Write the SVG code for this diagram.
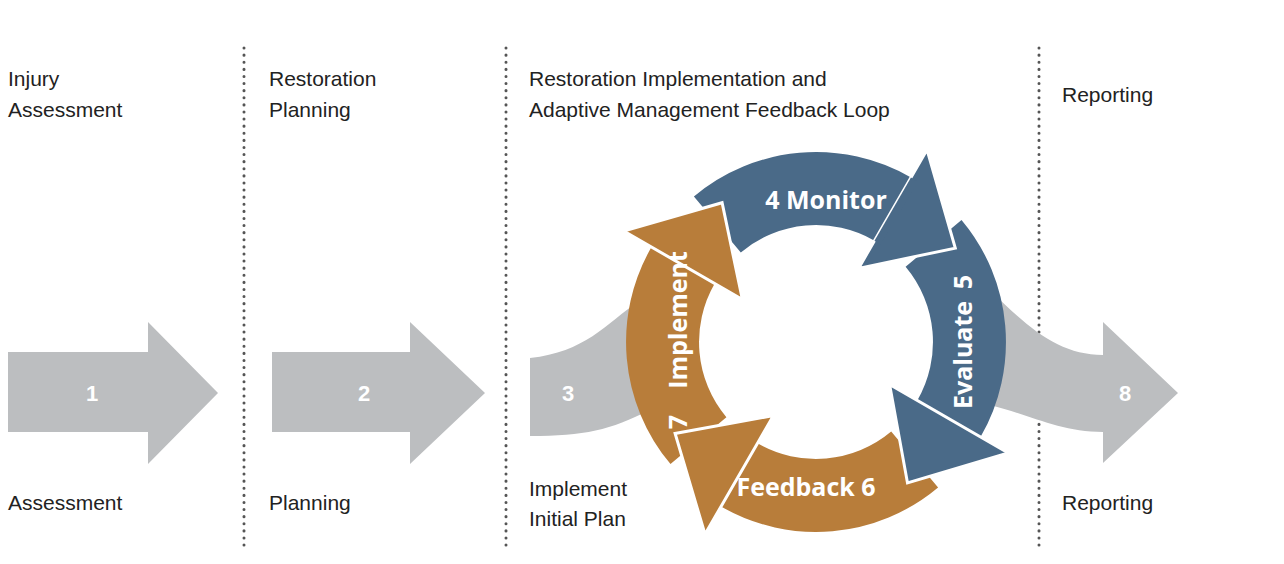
<svg xmlns="http://www.w3.org/2000/svg" width="1284" height="564" viewBox="0 0 1284 564">
<style>
.t{font-family:"Liberation Sans",Arial,sans-serif;font-size:21px;fill:#222}
.n{font-family:"Liberation Sans",Arial,sans-serif;font-size:22px;font-weight:bold;fill:#fff}
.g{fill:#bcbec0}
.b{fill:#4a6a88}
.o{fill:#b87d3a}
.h{stroke:#fff;stroke-width:3;stroke-linejoin:miter}
.d{stroke:#555;stroke-width:3;stroke-dasharray:0.1 7;stroke-linecap:round}
.c{font-family:"Open Sans","Liberation Sans",sans-serif;font-size:25px;font-weight:bold;fill:#fff}
</style>
<rect width="1284" height="564" fill="#fff"/>
<g id="dividers">
<line class="d" x1="244" y1="48" x2="244" y2="548"/>
<line class="d" x1="506" y1="48" x2="506" y2="548"/>
<line class="d" x1="1039" y1="48" x2="1039" y2="548"/>
</g>
<g id="headers">
<text class="t" x="8" y="86">Injury</text><text class="t" x="8" y="117">Assessment</text>
<text class="t" x="269" y="86">Restoration</text><text class="t" x="269" y="117">Planning</text>
<text class="t" x="529" y="86">Restoration Implementation and</text><text class="t" x="529" y="117">Adaptive Management Feedback Loop</text>
<text class="t" x="1062" y="102">Reporting</text>
<text class="t" x="8" y="510">Assessment</text>
<text class="t" x="269" y="510">Planning</text>
<text class="t" x="529" y="496">Implement</text><text class="t" x="529" y="526">Initial Plan</text>
<text class="t" x="1062" y="510">Reporting</text>
</g>
<g id="step1"><path class="g" d="M8,352 H148 V322 L218,393 L148,464 V432 H8 Z"/><text class="n" x="92" y="401" text-anchor="middle">1</text></g>
<g id="step2"><path class="g" d="M272,352 H410 V322 L485,393 L410,464 V432 H272 Z"/><text class="n" x="364" y="401" text-anchor="middle">2</text></g>
<g id="step3"><path class="g" d="M530,358 C585,352 605,325 640,300 L650,410 C610,430 585,436 530,436 Z"/><text class="n" x="568" y="401" text-anchor="middle">3</text></g>
<g id="step8"><path class="g" d="M990,290 C1030,330 1060,355 1103,355 V322 L1178,393 L1103,463 V432 C1060,432 1030,415 990,405 Z"/><text class="n" x="1125" y="401" text-anchor="middle">8</text></g>
<g id="cycle">
<path class="b" d="M693.9,196.5 A190,190 0 0 1 911,177.5 L874.5,240.7 A117,117 0 0 0 740.8,252.4 Z"/>
<path class="b" d="M961.5,219.9 A190,190 0 0 1 980.5,437 L917.3,400.5 A117,117 0 0 0 905.6,266.8 Z"/>
<path class="o" d="M938.1,487.5 A190,190 0 0 1 721,506.5 L757.5,443.3 A117,117 0 0 0 891.2,431.6 Z"/>
<path class="o" d="M670.5,464.1 A190,190 0 0 1 651.5,247 L714.7,283.5 A117,117 0 0 0 726.4,417.2 Z"/>
<polygon class="b h" points="927,149.7 955.3,248.1 858.5,268.4"/>
<polygon class="b h" points="1008.3,453 907.5,482.9 889.6,384.5"/>
<polygon class="o h" points="705,534.3 675.1,433.5 773.5,415.6"/>
<polygon class="o h" points="623.7,231 722.1,202.7 742.4,299.5"/>
<path class="b" d="M911,177.5 L874.5,240.7 L880,245 L918,182 Z"/>
</g>
<g id="labels">
<text class="c" x="826" y="209" text-anchor="middle">4 Monitor</text>
<text class="c" transform="translate(972,355) rotate(-90)" text-anchor="middle">Evaluate</text>
<text class="c" transform="translate(972,282) rotate(-90)" text-anchor="middle">5</text>
<text class="c" x="806" y="496" text-anchor="middle">Feedback 6</text>
<text class="c" transform="translate(687,320) rotate(-90)" text-anchor="middle">Implement</text>
<text class="c" transform="translate(687,422) rotate(-90)" text-anchor="middle">7</text>
</g>
</svg>
